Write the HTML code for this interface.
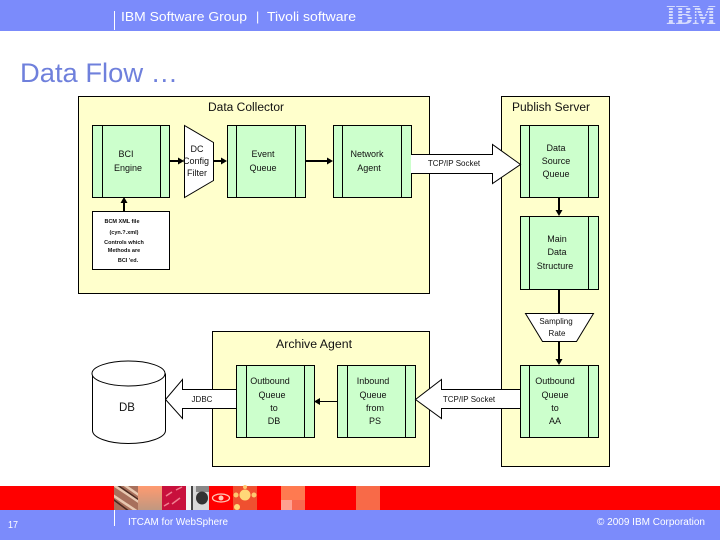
<!DOCTYPE html>
<html><head><meta charset="utf-8"><style>
html,body{margin:0;padding:0;background:#fff}
svg{display:block}
text{font-family:"Liberation Sans",sans-serif;fill:#111;text-anchor:middle}
.y{fill:#ffffcc;stroke:#000;stroke-width:1}
.g{fill:#ccffcc;stroke:#000;stroke-width:1}
.w{fill:#fff;stroke:#000;stroke-width:1}
.l{stroke:#000;stroke-width:1;fill:none}
.c{stroke:#000;stroke-width:2;fill:none}
.s{font-size:9px}
.t{font-size:8px}
.x{font-size:5.5px;font-weight:bold}
.h{font-size:11.5px}
.f{fill:#fff;text-anchor:start}
</style></head><body>
<svg width="720" height="540" viewBox="0 0 720 540" xmlns="http://www.w3.org/2000/svg">
<rect width="720" height="31" fill="#7b8bfb"/>
<line x1="114.500" y1="11" x2="114.500" y2="30" stroke="#fff"/>
<text class="f" x="121" y="21" font-size="12.500" textLength="126" lengthAdjust="spacingAndGlyphs">IBM Software Group</text>
<text class="f" x="256" y="21" font-size="12.500">|</text>
<text class="f" x="267" y="21" font-size="12.500" textLength="89" lengthAdjust="spacingAndGlyphs">Tivoli software</text>
<text x="691" y="24" style="font-family:'Liberation Serif',serif;font-weight:bold;font-size:27px;fill:#d5dbfd" textLength="50" lengthAdjust="spacingAndGlyphs">IBM</text>
<g stroke="#7b8bfb" stroke-width="1"><line x1="664" x2="718" y1="7.500" y2="7.500"/><line x1="664" x2="718" y1="10.500" y2="10.500"/><line x1="664" x2="718" y1="13.500" y2="13.500"/><line x1="664" x2="718" y1="16.500" y2="16.500"/><line x1="664" x2="718" y1="19.500" y2="19.500"/></g>
<text x="20" y="82" font-size="27" style="text-anchor:start;fill:#6f80dc" textLength="158" lengthAdjust="spacingAndGlyphs">Data Flow …</text>

<rect class="y" x="78.500" y="96.500" width="351" height="197"/>
<rect class="y" x="501.500" y="96.500" width="108" height="370"/>
<rect class="y" x="212.500" y="331.500" width="217" height="135"/>
<text class="h" x="246" y="111" textLength="76" lengthAdjust="spacingAndGlyphs">Data Collector</text>
<text class="h" x="551" y="111" textLength="78" lengthAdjust="spacingAndGlyphs">Publish Server</text>
<text class="h" x="314" y="348" textLength="76" lengthAdjust="spacingAndGlyphs">Archive Agent</text>

<!-- connectors -->
<path class="c" d="M169 161H180M213 161H223M305 161H329M124 211V202M559 197V211M559 289V313M559 341V361"/>
<path class="l" d="M337 401.500H318"/>
<path d="M184 161l-6-3.500v7zM227 161l-6-3.500v7zM333 161l-6-3.500v7zM124 197l-3.500 6h7zM559 216l-3.500-6h7zM559 365l-3.500-6h7zM314 401.500l6-3.500v7z" fill="#000"/>

<!-- process boxes -->
<g>
<rect class="g" x="92.500" y="125.500" width="77" height="72"/><path class="l" d="M102.500 125.500V197.500M160.500 125.500V197.500"/>
<rect class="g" x="227.500" y="125.500" width="78" height="72"/><path class="l" d="M236.500 125.500V197.500M295.500 125.500V197.500"/>
<rect class="g" x="333.500" y="125.500" width="78" height="72"/><path class="l" d="M342.500 125.500V197.500M401.500 125.500V197.500"/>
<rect class="g" x="520.500" y="125.500" width="78" height="72"/><path class="l" d="M529.500 125.500V197.500M588.500 125.500V197.500"/>
<rect class="g" x="520.500" y="216.500" width="78" height="73"/><path class="l" d="M529.500 216.500V289.500M588.500 216.500V289.500"/>
<rect class="g" x="520.500" y="365.500" width="78" height="72"/><path class="l" d="M529.500 365.500V437.500M588.500 365.500V437.500"/>
<rect class="g" x="337.500" y="365.500" width="78" height="72"/><path class="l" d="M347.500 365.500V437.500M405.500 365.500V437.500"/>
<rect class="g" x="236.500" y="365.500" width="78" height="72"/><path class="l" d="M246.500 365.500V437.500M304.500 365.500V437.500"/>
</g>

<!-- filters -->
<polygon class="w" points="184.500,125.500 213.500,142.500 213.500,180.500 184.500,197.500"/>
<polygon class="w" points="525.500,313.500 593.500,313.500 576.500,341.500 542.500,341.500"/>
<rect class="w" x="92.500" y="211.500" width="77" height="58"/>

<!-- block arrows: tail end left open against the process box -->
<polygon fill="#fff" points="411,154.500 492.500,154.500 492.500,144.500 520.500,164.500 492.500,183.500 492.500,173.500 411,173.500"/>
<path class="l" d="M411 154.500H492.500V144.500L520.500 164.500L492.500 183.500V173.500H411"/>
<polygon fill="#fff" points="520,389.500 441.500,389.500 441.500,379.500 415.500,399.500 441.500,418.500 441.500,408.500 520,408.500"/>
<path class="l" d="M520 389.500H441.500V379.500L415.500 399.500L441.500 418.500V408.500H520"/>
<polygon fill="#fff" points="236,389.500 182.500,389.500 182.500,379.500 165.500,399.500 182.500,418.500 182.500,408.500 236,408.500"/>
<path class="l" d="M236 389.500H182.500V379.500L165.500 399.500L182.500 418.500V408.500H236"/>

<!-- DB -->
<path class="w" d="M92.500 373.500V430.500C92.500 437.500 108 443.500 128.500 443.500S165.500 437.500 165.500 430.500V373.500"/>
<ellipse class="w" cx="128.500" cy="373.500" rx="36.500" ry="12.500"/>
<text x="127" y="411" font-size="11.500">DB</text>

<!-- labels -->
<text class="s" x="126" y="157">BCI</text><text class="s" x="128" y="171">Engine</text>
<text class="s" x="197" y="152">DC</text><text class="s" x="196" y="164">Config</text><text class="s" x="197" y="176">Filter</text>
<text class="s" x="263" y="157">Event</text><text class="s" x="263" y="171">Queue</text>
<text class="s" x="367" y="157">Network</text><text class="s" x="369" y="171">Agent</text>
<text class="t" x="454" y="166">TCP/IP Socket</text>
<text class="s" x="556" y="151">Data</text><text class="s" x="556" y="164">Source</text><text class="s" x="556" y="177">Queue</text>
<text class="s" x="557" y="242">Main</text><text class="s" x="557" y="255">Data</text><text class="s" x="555" y="269">Structure</text>
<text class="t" x="556" y="324">Sampling</text><text class="t" x="557" y="336">Rate</text>
<text class="s" x="555" y="384">Outbound</text><text class="s" x="555" y="398">Queue</text><text class="s" x="555" y="411">to</text><text class="s" x="555" y="424">AA</text>
<text class="s" x="373" y="384">Inbound</text><text class="s" x="373" y="398">Queue</text><text class="s" x="375" y="411">from</text><text class="s" x="375" y="424">PS</text>
<text class="s" x="270" y="384">Outbound</text><text class="s" x="272" y="398">Queue</text><text class="s" x="274" y="411">to</text><text class="s" x="274" y="424">DB</text>
<text class="t" x="469" y="402">TCP/IP Socket</text>
<text class="t" x="202" y="402">JDBC</text>
<text class="x" x="122" y="223">BCM XML file</text>
<text class="x" x="124" y="234">(cyn.?.xml)</text>
<text class="x" x="124" y="244">Controls which</text>
<text class="x" x="124" y="252">Methods are</text>
<text class="x" x="128" y="262">BCI   'ed.</text>

<!-- footer -->
<rect y="486" width="720" height="24" fill="#ff0000"/>
<rect y="510" width="720" height="30" fill="#7b8bfb"/>
<defs>
<linearGradient id="sa" x1="0" y1="0" x2="0" y2="1"><stop offset="0" stop-color="#ff9a70"/><stop offset="1" stop-color="#c09880"/></linearGradient>
<clipPath id="hc"><rect x="114" y="486" width="24" height="24"/></clipPath>
</defs>
<rect x="114" y="486" width="24" height="24" fill="#a8705c"/>
<g clip-path="url(#hc)" stroke="#e8c8b0" stroke-width="2.500"><path d="M108 492L138 512M112 484L142 504M120 482L146 500"/></g>
<g clip-path="url(#hc)" stroke="#4a2a20" stroke-width="1.500"><path d="M110 497L130 512M116 484L142 502"/></g>
<rect x="138" y="486" width="24" height="24" fill="url(#sa)"/>
<rect x="162" y="486" width="24" height="24" fill="#c8103c"/>
<path d="M166 496l6-4M172 504l8-6M176 490l6-3M164 506l5-3" stroke="#f08090" stroke-width="1.500"/>
<rect x="186" y="486" width="23" height="24" fill="#d8d8d8"/>
<rect x="186" y="486" width="5" height="24" fill="#f4f4f4"/><rect x="191" y="486" width="2" height="24" fill="#444"/>
<rect x="196" y="486" width="13" height="6" fill="#888"/>
<ellipse cx="202" cy="498" rx="6" ry="6.500" fill="#333"/>
<ellipse cx="221" cy="498" rx="8.500" ry="4" fill="none" stroke="#ffc8b8" stroke-width="1.300"/><circle cx="221" cy="498" r="2.500" fill="#ffc8b8"/>
<rect x="233" y="486" width="24" height="24" fill="#ef5030"/>
<circle cx="245" cy="495" r="5.500" fill="#ffd878"/><circle cx="236" cy="495" r="2.500" fill="#ffc870"/><circle cx="254" cy="495" r="2.500" fill="#ffc870"/><circle cx="237" cy="507" r="3" fill="#ffd878"/><circle cx="245" cy="487" r="2" fill="#ffc870"/>
<rect x="281" y="486" width="24" height="24" fill="#ff7a50"/><rect x="281" y="500" width="11" height="10" fill="#ffa090"/><rect x="292" y="500" width="13" height="10" fill="#f86a50"/>
<rect x="356" y="486" width="24" height="24" fill="#f86a48"/>
<line x1="114.500" y1="510" x2="114.500" y2="526" stroke="#fff"/>
<text class="f" x="8" y="528" font-size="10" textLength="10" lengthAdjust="spacingAndGlyphs">17</text>
<text class="f" x="128" y="525" font-size="10" textLength="100" lengthAdjust="spacingAndGlyphs">ITCAM for WebSphere</text>
<text class="f" x="597" y="525" font-size="10" textLength="108" lengthAdjust="spacingAndGlyphs">© 2009 IBM Corporation</text>
</svg>
</body></html>
